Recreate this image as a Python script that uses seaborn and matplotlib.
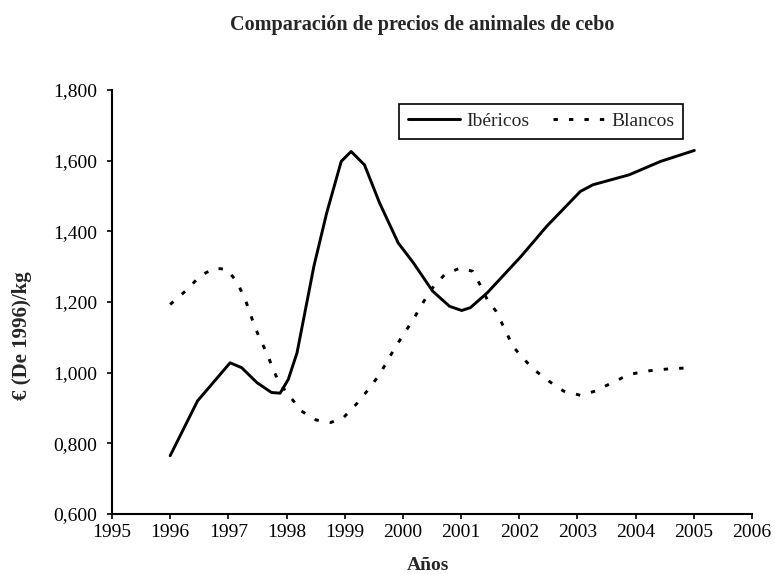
"""
Comparación de precios de animales de cebo — Ibéricos vs Blancos
"""

import matplotlib.pyplot as plt
import matplotlib.ticker as mticker
import pandas as pd
import seaborn as sns

# ─── datos ──────────────────────────────────────────────────────

iber_years = [1996.00, 1996.47, 1997.03, 1997.23, 1997.49, 1997.74, 1997.89,
              1998.03, 1998.18, 1998.47, 1998.69, 1998.94, 1999.11, 1999.34,
              1999.60, 1999.92, 2000.18, 2000.51, 2000.80, 2001.01, 2001.16,
              2001.45, 2002.03, 2002.47, 2003.05, 2003.27, 2003.89, 2004.43,
              2005.01]
iber_price = [0.765, 0.920, 1.028, 1.014, 0.972, 0.944, 0.942,
              0.981, 1.056, 1.301, 1.452, 1.598, 1.626, 1.588,
              1.480, 1.367, 1.311, 1.231, 1.188, 1.176, 1.184,
              1.226, 1.329, 1.414, 1.513, 1.532, 1.560, 1.598,
              1.629]

blanc_years = [1996.00, 1996.29, 1996.51, 1996.76, 1996.98, 1997.16, 1997.31,
               1997.41, 1997.52, 1997.67, 1997.78, 1997.89, 1998.03, 1998.25,
               1998.51, 1998.76, 1998.98, 1999.20, 1999.41, 1999.60, 1999.78,
               1999.92, 2000.18, 2000.36, 2000.51, 2000.72, 2000.98, 2001.20,
               2001.31, 2001.45, 2001.60, 2001.74, 2001.89, 2002.03, 2002.25,
               2002.51, 2002.76, 2003.05, 2003.31, 2003.60, 2003.89, 2004.21,
               2004.58, 2004.98]
blanc_price = [1.193, 1.235, 1.273, 1.296, 1.292, 1.254, 1.198,
               1.151, 1.104, 1.052, 1.005, 0.967, 0.939, 0.892,
               0.866, 0.859, 0.873, 0.911, 0.953, 0.995, 1.047,
               1.085, 1.151, 1.202, 1.240, 1.278, 1.296, 1.287,
               1.254, 1.207, 1.174, 1.127, 1.075, 1.047, 1.009,
               0.976, 0.948, 0.936, 0.948, 0.972, 0.995, 1.005,
               1.011, 1.014]

series_names = ["Ibéricos", "Blancos"]
x_ticks = list(range(1995, 2007))
y_ticks = [0.6, 0.8, 1.0, 1.2, 1.4, 1.6, 1.8]

df = pd.concat([
    pd.DataFrame({"año": iber_years, "precio": iber_price, "serie": "Ibéricos"}),
    pd.DataFrame({"año": blanc_years, "precio": blanc_price, "serie": "Blancos"}),
], ignore_index=True)

# ─── estilo ─────────────────────────────────────────────────────

sns.set_style("ticks")
plt.rcParams["font.family"] = ["Liberation Serif", "DejaVu Serif"]

fig = plt.figure(figsize=(7.75, 5.74), dpi=100, facecolor="white")
ax = fig.add_axes([0.1445, 0.1045, 0.8258, 0.7387])

sns.lineplot(
    data=df,
    x="año",
    y="precio",
    hue="serie",
    style="serie",
    hue_order=series_names,
    style_order=series_names,
    palette={"Ibéricos": "black", "Blancos": "black"},
    dashes={"Ibéricos": "", "Blancos": (1.5, 3.8)},
    linewidth=2.1,
    sort=False,
    estimator=None,
    ax=ax,
)

ax.set_xlim(1995, 2006)
ax.set_ylim(0.6, 1.8)
ax.set_xticks(x_ticks)
ax.set_yticks(y_ticks)
ax.yaxis.set_major_formatter(
    mticker.FuncFormatter(lambda v, _: f"{v:.3f}".replace(".", ","))
)
ax.tick_params(axis="both", labelsize=14, length=3.5, width=1.2,
               direction="out", color="black", labelcolor="black")
ax.tick_params(axis="y", pad=7)
ax.tick_params(axis="x", pad=4)
sns.despine(ax=ax)
for side in ["left", "bottom"]:
    ax.spines[side].set_linewidth(1.5)
    ax.spines[side].set_color("black")
ax.set_xlabel("")
ax.set_ylabel("")

# leyenda
handles, labels = ax.get_legend_handles_labels()
ax.get_legend().remove()
leg = fig.legend(
    handles, labels,
    loc="upper left",
    bbox_to_anchor=(0.515, 0.819),
    bbox_transform=fig.transFigure,
    ncol=2,
    fontsize=14,
    frameon=True,
    fancybox=False,
    framealpha=1,
    edgecolor="black",
    handlelength=2.7,
    handletextpad=0.3,
    columnspacing=1.2,
    borderpad=0.45,
    borderaxespad=0,
)
leg.get_frame().set_linewidth(1.2)

# textos
fig.text(0.545, 0.957, "Comparación de precios de animales de cebo",
         ha="center", va="center", fontsize=14.5, fontweight="bold")
fig.text(0.029, 0.415, "€ (De 1996)/kg", rotation=90,
         ha="center", va="center", fontsize=15, fontweight="bold")
fig.text(0.552, 0.014, "Años", ha="center", va="center",
         fontsize=14, fontweight="bold")

fig.savefig("out.png", dpi=100, facecolor="white")
plt.close(fig)
